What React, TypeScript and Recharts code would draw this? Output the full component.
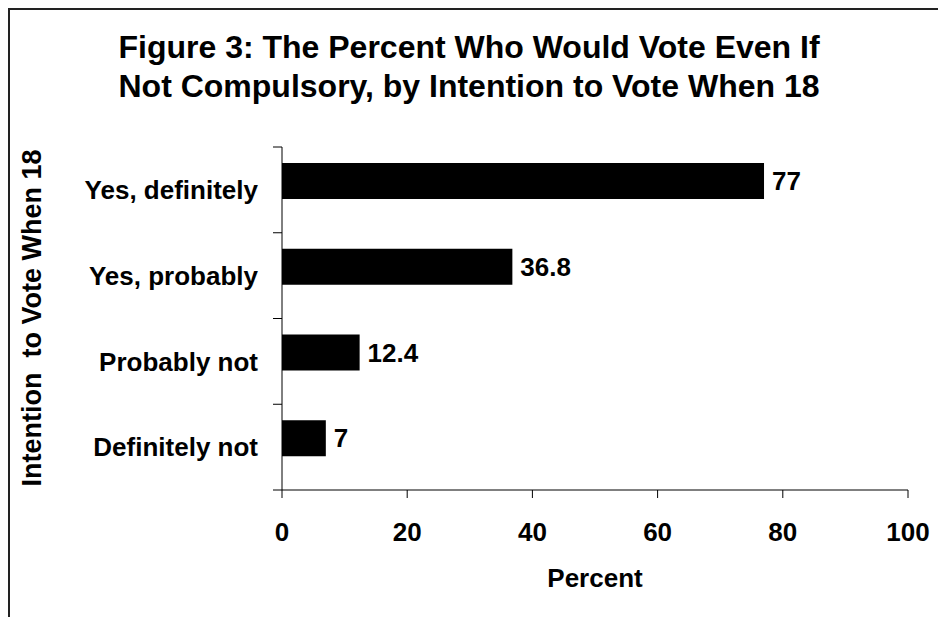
import { Bar, BarChart, LabelList, XAxis, YAxis } from "recharts";

const categories = ["Yes, definitely", "Yes, probably", "Probably not", "Definitely not"];
const percents = [77, 36.8, 12.4, 7];
const xTicks = [0, 20, 40, 60, 80, 100];

const data = categories.map((label, i) => ({ label, value: percents[i] }));

const font = "'Liberation Sans', Arial, sans-serif";
// Excel draws the bars a little above the centre of their band
const barLift = 9;
const catTickSize = 9;
const catTickMargin = 15;

const CategoryTick = (props: any) => {
  const { x, y, payload, index } = props;
  const half = payload?.offset ?? 0;
  const axisX = x + catTickMargin + catTickSize;
  const last = index === categories.length - 1;
  return (
    <g>
      <text
        x={x}
        y={y}
        dy="0.355em"
        textAnchor="end"
        fill="#000"
        fontSize={26}
        fontWeight="bold"
        fontFamily={font}
      >
        {payload.value}
      </text>
      <line x1={axisX - catTickSize} x2={axisX} y1={y - half} y2={y - half} stroke="#000" />
      {last && <line x1={axisX - catTickSize} x2={axisX} y1={y + half} y2={y + half} stroke="#000" />}
    </g>
  );
};

const LiftedBar = (props: any) => {
  const { x, y, width, height } = props;
  return <rect x={x} y={y - barLift} width={width} height={height} fill="#000" />;
};

const ValueLabel = (props: any) => {
  const { x, y, width, height, value } = props;
  return (
    <text
      x={x + width + 8}
      y={y + height / 2 - barLift}
      dy="0.355em"
      fill="#000"
      fontSize={26}
      fontWeight="bold"
      fontFamily={font}
    >
      {value}
    </text>
  );
};

export default function App() {
  return (
    <div
      style={{
        position: "absolute",
        left: 0,
        top: 0,
        width: 938,
        height: 617,
        overflow: "hidden",
        background: "#fff",
        fontFamily: font,
        fontWeight: "bold",
      }}
    >
      <div
        style={{
          position: "absolute",
          left: 8,
          top: 8,
          width: 1000,
          height: 1000,
          borderTop: "2px solid #222",
          borderLeft: "2px solid #222",
        }}
      />
      <div
        style={{
          position: "absolute",
          left: 0,
          top: 28,
          width: 938,
          textAlign: "center",
          fontSize: 32,
          lineHeight: "39px",
          color: "#000",
        }}
      >
        Figure 3: The Percent Who Would Vote Even If
        <br />
        Not Compulsory, by Intention to Vote When 18
      </div>
      <BarChart
        width={938}
        height={617}
        data={data}
        layout="vertical"
        margin={{ top: 147, right: 30, bottom: 27, left: 32 }}
        style={{ position: "absolute", left: 0, top: 0 }}
      >
        <YAxis
          type="category"
          dataKey="label"
          width={250}
          tickSize={catTickSize}
          tickMargin={catTickMargin}
          tickLine={{ stroke: "none" }}
          axisLine={{ stroke: "#000" }}
          tick={<CategoryTick />}
        />
        <XAxis
          type="number"
          domain={[0, 100]}
          ticks={xTicks}
          height={100}
          tickSize={8}
          tickMargin={25}
          axisLine={{ stroke: "#000" }}
          tickLine={{ stroke: "#000" }}
          tick={{ fill: "#000", fontSize: 26, fontWeight: "bold", fontFamily: font }}
        />
        <Bar dataKey="value" fill="#000" barSize={36} shape={<LiftedBar />} isAnimationActive={false}>
          <LabelList dataKey="value" content={<ValueLabel />} />
        </Bar>
      </BarChart>
      <div
        style={{
          position: "absolute",
          left: 282,
          top: 562,
          width: 626,
          textAlign: "center",
          fontSize: 26,
          lineHeight: "32px",
          color: "#000",
        }}
      >
        Percent
      </div>
      <div
        style={{
          position: "absolute",
          left: 32 - 200,
          top: 318 - 16,
          width: 400,
          textAlign: "center",
          fontSize: 27,
          lineHeight: "32px",
          whiteSpace: "pre",
          color: "#000",
          transform: "rotate(-90deg)",
        }}
      >
        {"Intention  to Vote When 18"}
      </div>
    </div>
  );
}
